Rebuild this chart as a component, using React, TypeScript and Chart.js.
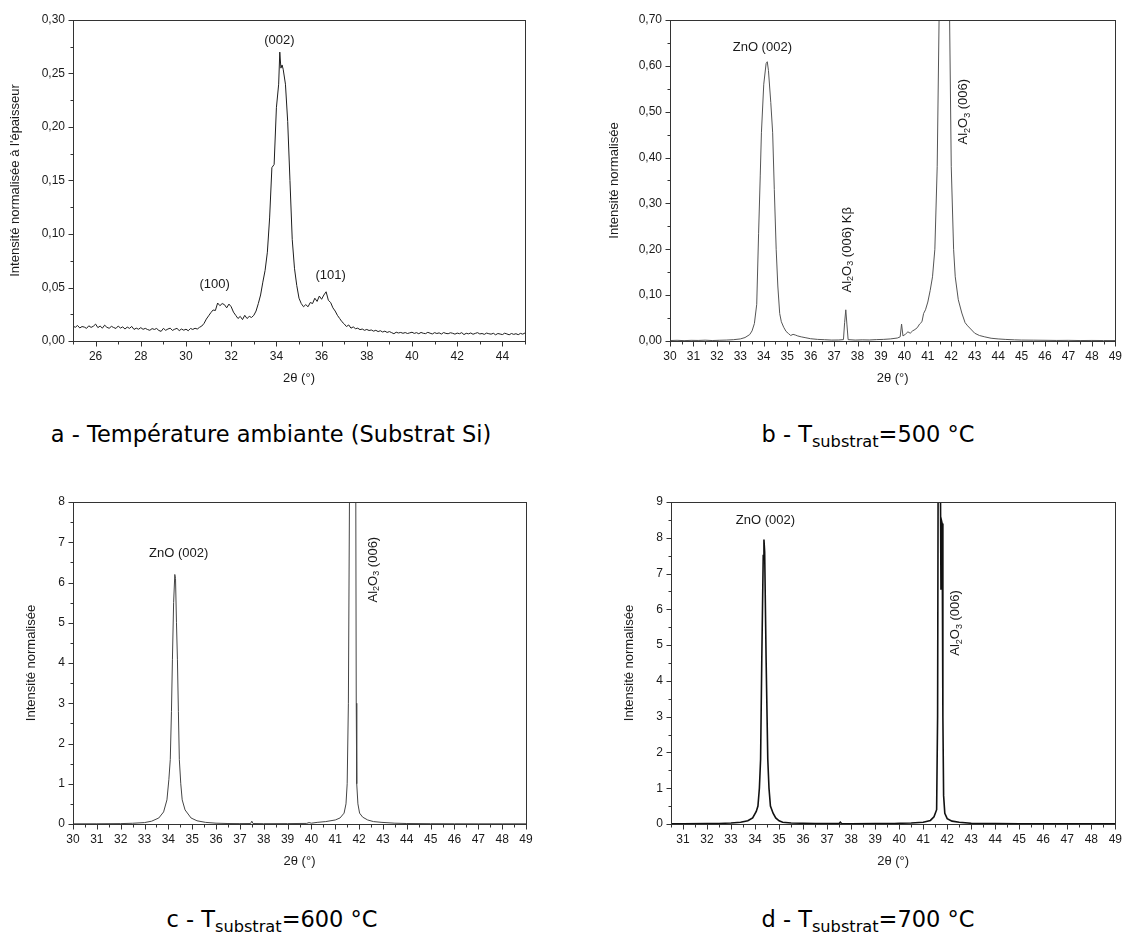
import React, { useEffect, useRef } from 'react';
import { Chart, registerables } from 'chart.js';

Chart.register(...registerables);
Chart.defaults.font.family = '"Liberation Sans", Arial, sans-serif';

// ---------- Panel a : ambient temperature (Si substrate) ----------
const A_THETA = [
  25.0, 25.1, 25.2, 25.3, 25.4, 25.5, 25.6, 25.7, 25.8, 25.9,
  26.0, 26.1, 26.2, 26.3, 26.4, 26.5, 26.6, 26.7, 26.8, 26.9,
  27.0, 27.1, 27.2, 27.3, 27.4, 27.5, 27.6, 27.7, 27.8, 27.9,
  28.0, 28.1, 28.2, 28.3, 28.4, 28.5, 28.6, 28.7, 28.8, 28.9,
  29.0, 29.1, 29.2, 29.3, 29.4, 29.5, 29.6, 29.7, 29.8, 29.9,
  30.0, 30.1, 30.2, 30.3, 30.4, 30.5, 30.6, 30.7, 30.8, 30.9,
  31.0, 31.1, 31.2, 31.3, 31.4, 31.5, 31.6, 31.7, 31.8, 31.9,
  32.0, 32.1, 32.2, 32.3, 32.4, 32.5, 32.6, 32.7, 32.8, 32.9,
  33.0, 33.1, 33.2, 33.3, 33.4, 33.5, 33.6, 33.7, 33.8, 33.9,
  34.0, 34.1, 34.15, 34.2, 34.25, 34.3, 34.4, 34.5, 34.6, 34.7, 34.8, 34.9,
  35.0, 35.1, 35.2, 35.3, 35.4, 35.5, 35.6, 35.7, 35.8, 35.9,
  36.0, 36.1, 36.2, 36.3, 36.4, 36.5, 36.6, 36.7, 36.8, 36.9,
  37.0, 37.1, 37.2, 37.3, 37.4, 37.5, 37.6, 37.7, 37.8, 37.9,
  38.0, 38.1, 38.2, 38.3, 38.4, 38.5, 38.6, 38.7, 38.8, 38.9,
  39.0, 39.1, 39.2, 39.3, 39.4, 39.5, 39.6, 39.7, 39.8, 39.9,
  40.0, 40.1, 40.2, 40.3, 40.4, 40.5, 40.6, 40.7, 40.8, 40.9,
  41.0, 41.1, 41.2, 41.3, 41.4, 41.5, 41.6, 41.7, 41.8, 41.9,
  42.0, 42.1, 42.2, 42.3, 42.4, 42.5, 42.6, 42.7, 42.8, 42.9,
  43.0, 43.1, 43.2, 43.3, 43.4, 43.5, 43.6, 43.7, 43.8, 43.9,
  44.0, 44.1, 44.2, 44.3, 44.4, 44.5, 44.6, 44.7, 44.8, 44.9,
  45.0,
];
const A_INTENSITY = [
  0.0140, 0.0128, 0.0145, 0.0122, 0.0135, 0.0130, 0.0118, 0.0142, 0.0127, 0.0138,
  0.0158, 0.0125, 0.0140, 0.0120, 0.0148, 0.0128, 0.0119, 0.0137, 0.0126, 0.0117,
  0.0140, 0.0121, 0.0132, 0.0112, 0.0130, 0.0118, 0.0136, 0.0108, 0.0120, 0.0110,
  0.0125, 0.0109, 0.0118, 0.0107, 0.0100, 0.0116, 0.0108, 0.0117, 0.0098, 0.0090,
  0.0118, 0.0100, 0.0112, 0.0120, 0.0099, 0.0110, 0.0118, 0.0097, 0.0112, 0.0101,
  0.0110, 0.0096, 0.0117, 0.0108, 0.0119, 0.0112, 0.0128, 0.0140, 0.0165, 0.0205,
  0.0235, 0.0265, 0.0290, 0.0285, 0.0355, 0.0330, 0.0350, 0.0340, 0.0310, 0.0345,
  0.0320, 0.0270, 0.0240, 0.0210, 0.0230, 0.0200, 0.0240, 0.0210, 0.0230, 0.0220,
  0.0240, 0.0280, 0.0350, 0.0430, 0.0550, 0.0660, 0.0830, 0.1150, 0.1620, 0.1650,
  0.2180, 0.2400, 0.2700, 0.2550, 0.2580, 0.2540, 0.2400, 0.2050, 0.1500, 0.0950, 0.0680, 0.0520,
  0.0400, 0.0350, 0.0320, 0.0340, 0.0320, 0.0360, 0.0350, 0.0400, 0.0370, 0.0420,
  0.0390, 0.0430, 0.0460, 0.0380, 0.0360, 0.0310, 0.0280, 0.0240, 0.0210, 0.0180,
  0.0160, 0.0135, 0.0150, 0.0120, 0.0132, 0.0115, 0.0120, 0.0106, 0.0112, 0.0100,
  0.0108, 0.0098, 0.0103, 0.0092, 0.0100, 0.0088, 0.0096, 0.0084, 0.0092, 0.0080,
  0.0088, 0.0078, 0.0068, 0.0082, 0.0075, 0.0080, 0.0072, 0.0079, 0.0070, 0.0076,
  0.0082, 0.0071, 0.0078, 0.0068, 0.0080, 0.0072, 0.0069, 0.0081, 0.0073, 0.0066,
  0.0078, 0.0070, 0.0076, 0.0065, 0.0079, 0.0071, 0.0068, 0.0077, 0.0072, 0.0064,
  0.0074, 0.0068, 0.0078, 0.0060, 0.0072, 0.0067, 0.0075, 0.0063, 0.0071, 0.0078,
  0.0066, 0.0070, 0.0062, 0.0074, 0.0068, 0.0064, 0.0072, 0.0058, 0.0070, 0.0065,
  0.0060, 0.0073, 0.0066, 0.0058, 0.0070, 0.0062, 0.0068, 0.0059, 0.0071, 0.0064,
  0.0075,
];
const A_X_TICKS = [26, 28, 30, 32, 34, 36, 38, 40, 42, 44];
const A_Y_TICKS = [0, 0.05, 0.1, 0.15, 0.2, 0.25, 0.3];

// ---------- Panel b : T substrat = 500 °C ----------
const B_THETA = [
  30.0, 30.3, 30.6, 30.9, 31.2, 31.5, 31.8, 32.1, 32.4, 32.7,
  33.0, 33.2, 33.4, 33.5, 33.6, 33.7, 33.78, 33.85, 33.9, 34.0,
  34.1, 34.15, 34.2, 34.3, 34.38, 34.45, 34.53, 34.6, 34.68, 34.75,
  34.85, 34.95, 35.06, 35.15, 35.25, 35.35, 35.45, 35.6, 35.8, 36.0,
  36.3, 36.6, 36.9, 37.2, 37.4, 37.45, 37.5, 37.55, 37.6, 37.9,
  38.2, 38.5, 38.8, 39.1, 39.4, 39.7, 39.82, 39.88, 39.94, 40.05,
  40.15, 40.25, 40.35, 40.45, 40.55, 40.65, 40.75, 40.82, 40.9, 41.0,
  41.1, 41.2, 41.3, 41.4, 41.48, 41.55, 41.65, 41.72, 41.8, 41.88,
  41.93, 42.0, 42.1, 42.17, 42.3, 42.45, 42.59, 42.7, 42.87, 43.0,
  43.2, 43.43, 43.7, 44.0, 44.3, 44.7, 45.0, 45.5, 46.0, 46.5,
  47.0, 47.5, 48.0, 48.5, 49.0,
];
const B_INTENSITY = [
  0.0010, 0.0015, 0.0008, 0.0014, 0.0012, 0.0018, 0.0010, 0.0016, 0.0020, 0.0028,
  0.0045, 0.0075, 0.0140, 0.0220, 0.0380, 0.0800, 0.2350, 0.3600, 0.4540, 0.5600,
  0.6050, 0.6090, 0.5900, 0.5200, 0.4540, 0.3300, 0.2000, 0.1200, 0.0600, 0.0420,
  0.0300, 0.0210, 0.0160, 0.0120, 0.0145, 0.0130, 0.0110, 0.0090, 0.0070, 0.0050,
  0.0035, 0.0028, 0.0020, 0.0022, 0.0030, 0.0400, 0.0680, 0.0350, 0.0030, 0.0020,
  0.0025, 0.0022, 0.0030, 0.0035, 0.0045, 0.0065, 0.0090, 0.0370, 0.0110, 0.0150,
  0.0200, 0.0170, 0.0220, 0.0250, 0.0290, 0.0370, 0.0420, 0.0600, 0.0680, 0.0850,
  0.1100, 0.1400, 0.2000, 0.3800, 0.7000, 1.4000, 2.6000, 2.8000, 2.4000, 1.3000,
  0.7000, 0.3800, 0.2000, 0.1400, 0.0900, 0.0610, 0.0400, 0.0330, 0.0240, 0.0170,
  0.0120, 0.0090, 0.0060, 0.0045, 0.0035, 0.0025, 0.0020, 0.0018, 0.0015, 0.0012,
  0.0014, 0.0010, 0.0012, 0.0010, 0.0010,
];
const B_X_TICKS = [30, 31, 32, 33, 34, 35, 36, 37, 38, 39, 40, 41, 42, 43, 44, 45, 46, 47, 48, 49];
const B_Y_TICKS = [0, 0.1, 0.2, 0.3, 0.4, 0.5, 0.6, 0.7];

// ---------- Panel c : T substrat = 600 °C ----------
const C_THETA = [
  30.0, 31.0, 32.0, 32.5, 33.0, 33.3, 33.6, 33.8, 33.94, 34.02,
  34.08, 34.13, 34.17, 34.22, 34.27, 34.30, 34.34, 34.38, 34.42, 34.46,
  34.52, 34.58, 34.7, 34.95, 35.2, 35.56, 36.0, 36.5, 37.0, 37.45,
  37.5, 37.55, 38.0, 39.0, 39.8, 39.9, 40.0, 40.24, 40.6, 41.0,
  41.2, 41.37, 41.45, 41.5, 41.55, 41.6, 41.7, 41.8, 41.86, 41.88,
  41.9, 41.95, 42.02, 42.15, 42.36, 42.6, 42.96, 43.5, 44.0, 45.0,
  46.0, 47.0, 48.0, 49.0,
];
const C_INTENSITY = [
  0.005, 0.006, 0.010, 0.018, 0.035, 0.070, 0.150, 0.300, 0.600, 1.10,
  1.60, 2.80, 4.08, 5.50, 6.20, 6.10, 5.00, 4.08, 2.80, 1.60,
  1.00, 0.600, 0.350, 0.150, 0.080, 0.040, 0.020, 0.012, 0.010, 0.012,
  0.070, 0.012, 0.008, 0.010, 0.015, 0.035, 0.020, 0.040, 0.060, 0.100,
  0.150, 0.270, 0.500, 1.00, 3.00, 8.50, 20.0, 12.0, 8.50, 3.00,
  1.00, 0.500, 0.270, 0.170, 0.100, 0.060, 0.040, 0.020, 0.012, 0.008,
  0.006, 0.005, 0.005, 0.005,
];
const C_X_TICKS = [30, 31, 32, 33, 34, 35, 36, 37, 38, 39, 40, 41, 42, 43, 44, 45, 46, 47, 48, 49];
const C_Y_TICKS = [0, 1, 2, 3, 4, 5, 6, 7, 8];

// ---------- Panel d : T substrat = 700 °C ----------
const D_THETA = [
  30.5, 31.0, 32.0, 32.5, 33.0, 33.4, 33.7, 33.9, 34.05, 34.12,
  34.18, 34.23, 34.28, 34.34, 34.37, 34.40, 34.46, 34.53, 34.58, 34.64,
  34.75, 34.86, 35.0, 35.15, 35.5, 36.0, 36.5, 37.0, 37.5, 37.55,
  37.6, 38.0, 39.0, 39.8, 40.0, 40.5, 41.0, 41.3, 41.45, 41.56,
  41.6, 41.63, 41.7, 41.74, 41.77, 41.79, 41.82, 41.85, 41.9, 42.0,
  42.2, 42.5, 43.0, 44.0, 45.0, 46.0, 47.0, 48.0, 49.0,
];
const D_INTENSITY = [
  0.005, 0.006, 0.010, 0.015, 0.030, 0.050, 0.090, 0.170, 0.350, 0.500,
  1.00, 1.80, 4.60, 7.50, 7.95, 7.60, 4.60, 1.80, 1.00, 0.500,
  0.300, 0.170, 0.090, 0.050, 0.030, 0.020, 0.012, 0.010, 0.012, 0.050,
  0.012, 0.008, 0.010, 0.015, 0.020, 0.030, 0.050, 0.100, 0.200, 0.400,
  3.00, 12.0, 12.0, 6.55, 8.46, 8.40, 3.00, 0.800, 0.300, 0.150,
  0.080, 0.050, 0.020, 0.010, 0.008, 0.006, 0.005, 0.005, 0.005,
];
const D_X_TICKS = [31, 32, 33, 34, 35, 36, 37, 38, 39, 40, 41, 42, 43, 44, 45, 46, 47, 48, 49];
const D_Y_TICKS = [0, 1, 2, 3, 4, 5, 6, 7, 8, 9];

// ---------- text ----------
const X_TITLE = '2θ (°)';
const Y_TITLE_A = "Intensité normalisée à l'épaisseur";
const Y_TITLE_OTHERS = 'Intensité normalisée';

type Seg = { t: string; sub?: boolean };
type Ann = { x: number; y: number; segs: Seg[]; rotate?: boolean };

const AL2O3: Seg[] = [{ t: 'Al' }, { t: '2', sub: true }, { t: 'O' }, { t: '3', sub: true }];
const A_ANN: Ann[] = [
  { x: 31.27, y: 0.053, segs: [{ t: '(100)' }] },
  { x: 34.13, y: 0.281, segs: [{ t: '(002)' }] },
  { x: 36.4, y: 0.061, segs: [{ t: '(101)' }] },
];
const B_ANN: Ann[] = [
  { x: 33.94, y: 0.641, segs: [{ t: 'ZnO (002)' }] },
  { x: 37.55, y: 0.199, segs: [...AL2O3, { t: ' (006) Kβ' }], rotate: true },
  { x: 42.54, y: 0.5, segs: [...AL2O3, { t: ' (006)' }], rotate: true },
];
const C_ANN: Ann[] = [
  { x: 34.43, y: 6.73, segs: [{ t: 'ZnO (002)' }] },
  { x: 42.58, y: 6.32, segs: [...AL2O3, { t: ' (006)' }], rotate: true },
];
const D_ANN: Ann[] = [
  { x: 34.43, y: 8.49, segs: [{ t: 'ZnO (002)' }] },
  { x: 42.33, y: 5.62, segs: [...AL2O3, { t: ' (006)' }], rotate: true },
];

const FONT = '"Liberation Sans", Arial, sans-serif';
const FRAME = '#333333';
const TEXT = '#1a1a1a';

interface PanelCfg {
  left: number; top: number; width: number; height: number;
  padTop: number; padRight: number; yWidth: number; xHeight: number;
  xMin: number; xMax: number; xMinorStep: number; xTicks: number[];
  yMin: number; yMax: number; yMinorStep: number; yTicks: number[];
  yDecimals: number;
  yTitle: string; yTitlePad: number; xTitlePad: number;
  xs: number[]; ys: number[];
  color: string; lineWidth: number;
  anns: Ann[];
}

function drawRich(ctx: CanvasRenderingContext2D, segs: Seg[], cx: number, cy: number, rotate?: boolean) {
  const big = `13px ${FONT}`;
  const small = `9px ${FONT}`;
  const widths = segs.map((s) => {
    ctx.font = s.sub ? small : big;
    return ctx.measureText(s.t).width;
  });
  const total = widths.reduce((a, b) => a + b, 0);
  ctx.save();
  ctx.translate(cx, cy);
  if (rotate) ctx.rotate(-Math.PI / 2);
  ctx.textBaseline = 'middle';
  ctx.textAlign = 'left';
  ctx.fillStyle = TEXT;
  let x = -total / 2;
  segs.forEach((s, i) => {
    ctx.font = s.sub ? small : big;
    ctx.fillText(s.t, x, s.sub ? 4 : 0);
    x += widths[i];
  });
  ctx.restore();
}

function makeOverlay(cfg: PanelCfg) {
  return {
    id: 'overlay',
    afterDraw(chart: any) {
      const { ctx, chartArea: ca } = chart;
      const xs = chart.scales.x;
      const ys = chart.scales.y;
      const L = Math.round(ca.left) + 0.5;
      const R = Math.round(ca.right) + 0.5;
      const T = Math.round(ca.top) + 0.5;
      const B = Math.round(ca.bottom) + 0.5;
      ctx.save();
      ctx.strokeStyle = FRAME;
      ctx.lineWidth = 1;
      ctx.strokeRect(L, T, R - L, B - T);
      ctx.beginPath();
      const nx = Math.round((cfg.xMax - cfg.xMin) / cfg.xMinorStep);
      for (let i = 0; i <= nx; i++) {
        const v = cfg.xMin + i * cfg.xMinorStep;
        const major = cfg.xTicks.some((t) => Math.abs(t - v) < 1e-6);
        const px = Math.round(xs.getPixelForValue(v)) + 0.5;
        ctx.moveTo(px, B);
        ctx.lineTo(px, B + (major ? 5 : 3));
      }
      const ny = Math.round((cfg.yMax - cfg.yMin) / cfg.yMinorStep);
      for (let i = 0; i <= ny; i++) {
        const v = cfg.yMin + i * cfg.yMinorStep;
        const major = cfg.yTicks.some((t) => Math.abs(t - v) < 1e-6);
        const py = Math.round(ys.getPixelForValue(v)) + 0.5;
        ctx.moveTo(L, py);
        ctx.lineTo(L - (major ? 5 : 3), py);
      }
      ctx.stroke();
      cfg.anns.forEach((a) => {
        drawRich(ctx, a.segs, xs.getPixelForValue(a.x), ys.getPixelForValue(a.y), a.rotate);
      });
      ctx.restore();
    },
  };
}

function Panel({ cfg }: { cfg: PanelCfg }) {
  const ref = useRef<HTMLCanvasElement | null>(null);
  useEffect(() => {
    if (!ref.current) return;
    const points = cfg.xs.map((x, i) => ({ x, y: cfg.ys[i] }));
    const chart = new Chart(ref.current, {
      type: 'line',
      data: {
        datasets: [
          {
            data: points,
            borderColor: cfg.color,
            borderWidth: cfg.lineWidth,
            pointRadius: 0,
            tension: 0,
            fill: false,
          },
        ],
      },
      options: {
        animation: false,
        responsive: false,
        events: [],
        layout: { padding: { left: 0, top: cfg.padTop, right: cfg.padRight, bottom: 0 } },
        plugins: { legend: { display: false }, tooltip: { enabled: false } },
        scales: {
          x: {
            type: 'linear',
            min: cfg.xMin,
            max: cfg.xMax,
            afterBuildTicks: (scale: any) => {
              scale.ticks = cfg.xTicks.map((v) => ({ value: v }));
            },
            afterFit: (scale: any) => {
              scale.height = cfg.xHeight;
            },
            grid: { display: false, drawTicks: false },
            border: { display: false },
            ticks: {
              autoSkip: false,
              maxRotation: 0,
              padding: 8,
              color: TEXT,
              font: { size: 12, family: FONT },
              callback: (v: any) => String(Math.round(Number(v))),
            },
            title: {
              display: true,
              text: X_TITLE,
              color: TEXT,
              font: { size: 13, family: FONT },
              padding: { top: 0, bottom: cfg.xTitlePad },
            },
          },
          y: {
            type: 'linear',
            min: cfg.yMin,
            max: cfg.yMax,
            afterBuildTicks: (scale: any) => {
              scale.ticks = cfg.yTicks.map((v) => ({ value: v }));
            },
            afterFit: (scale: any) => {
              scale.width = cfg.yWidth;
            },
            grid: { display: false, drawTicks: false },
            border: { display: false },
            ticks: {
              padding: 8,
              color: TEXT,
              font: { size: 12, family: FONT },
              callback: (v: any) => Number(v).toFixed(cfg.yDecimals).replace('.', ','),
            },
            title: {
              display: true,
              text: cfg.yTitle,
              color: TEXT,
              font: { size: 13, family: FONT },
              padding: { top: cfg.yTitlePad, bottom: 0 },
            },
          },
        },
      },
      plugins: [makeOverlay(cfg)],
    } as any);
    return () => chart.destroy();
  }, [cfg]);
  return (
    <canvas
      ref={ref}
      width={cfg.width}
      height={cfg.height}
      style={{ position: 'absolute', left: cfg.left, top: cfg.top, width: cfg.width, height: cfg.height, display: 'block' }}
    />
  );
}

const PANEL_A: PanelCfg = {
  left: 0, top: 0, width: 565, height: 400, padTop: 20, padRight: 40, yWidth: 73, xHeight: 59,
  xMin: 25, xMax: 45, xMinorStep: 1, xTicks: A_X_TICKS,
  yMin: 0, yMax: 0.3, yMinorStep: 0.025, yTicks: A_Y_TICKS, yDecimals: 2,
  yTitle: Y_TITLE_A, yTitlePad: 8, xTitlePad: 14,
  xs: A_THETA, ys: A_INTENSITY, color: '#1e1e1e', lineWidth: 1, anns: A_ANN,
};
const PANEL_B: PanelCfg = {
  left: 565, top: 0, width: 565, height: 400, padTop: 20, padRight: 7, yWidth: 105, xHeight: 59,
  xMin: 30, xMax: 49, xMinorStep: 0.5, xTicks: B_X_TICKS,
  yMin: 0, yMax: 0.7, yMinorStep: 0.05, yTicks: B_Y_TICKS, yDecimals: 2,
  yTitle: Y_TITLE_OTHERS, yTitlePad: 42, xTitlePad: 14,
  xs: B_THETA, ys: B_INTENSITY, color: '#555555', lineWidth: 1, anns: B_ANN,
};
const PANEL_C: PanelCfg = {
  left: 0, top: 460, width: 565, height: 420, padTop: 42, padRight: 39, yWidth: 73, xHeight: 56,
  xMin: 30, xMax: 49, xMinorStep: 0.5, xTicks: C_X_TICKS,
  yMin: 0, yMax: 8, yMinorStep: 0.5, yTicks: C_Y_TICKS, yDecimals: 0,
  yTitle: Y_TITLE_OTHERS, yTitlePad: 24, xTitlePad: 11,
  xs: C_THETA, ys: C_INTENSITY, color: '#444444', lineWidth: 1, anns: C_ANN,
};
const PANEL_D: PanelCfg = {
  left: 565, top: 460, width: 565, height: 420, padTop: 42, padRight: 7, yWidth: 106, xHeight: 56,
  xMin: 30.5, xMax: 49, xMinorStep: 0.5, xTicks: D_X_TICKS,
  yMin: 0, yMax: 9, yMinorStep: 0.5, yTicks: D_Y_TICKS, yDecimals: 0,
  yTitle: Y_TITLE_OTHERS, yTitlePad: 57, xTitlePad: 11,
  xs: D_THETA, ys: D_INTENSITY, color: '#111111', lineWidth: 1.6, anns: D_ANN,
};

const CAP_FONT = '"DejaVu Sans", sans-serif';

function Caption({ cx, cy, children }: { cx: number; cy: number; children: React.ReactNode }) {
  return (
    <div
      style={{
        position: 'absolute',
        left: cx - 300,
        top: cy - 15,
        width: 600,
        height: 30,
        lineHeight: '30px',
        textAlign: 'center',
        fontFamily: CAP_FONT,
        fontSize: 22.5,
        color: '#000',
        whiteSpace: 'nowrap',
      }}
    >
      {children}
    </div>
  );
}

function Sub({ children }: { children: React.ReactNode }) {
  return <span style={{ fontSize: '0.72em', position: 'relative', top: '0.3em' }}>{children}</span>;
}

export default function App() {
  return (
    <div style={{ position: 'absolute', left: 0, top: 0, width: 1130, height: 932, background: '#fff', overflow: 'hidden' }}>
      <Panel cfg={PANEL_A} />
      <Panel cfg={PANEL_B} />
      <Panel cfg={PANEL_C} />
      <Panel cfg={PANEL_D} />
      <Caption cx={271} cy={434}>a - Température ambiante (Substrat Si)</Caption>
      <Caption cx={868} cy={434}>
        b - T<Sub>substrat</Sub>=500 °C
      </Caption>
      <Caption cx={272} cy={919}>
        c - T<Sub>substrat</Sub>=600 °C
      </Caption>
      <Caption cx={868} cy={919}>
        d - T<Sub>substrat</Sub>=700 °C
      </Caption>
    </div>
  );
}
